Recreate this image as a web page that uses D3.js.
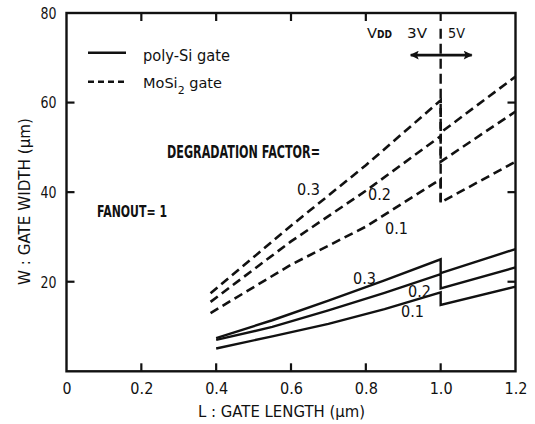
<!DOCTYPE html>
<html><head><meta charset="utf-8">
<script src="https://cdn.jsdelivr.net/npm/d3@7"></script>
<style>
body{margin:0;background:#fff;}
svg text{font-family:"DejaVu Sans",sans-serif;fill:#111;}
</style></head>
<body><svg id="c" width="535" height="424"></svg>
<script>
// ---- data ----
const xTicks = [0, 0.2, 0.4, 0.6, 0.8, 1.0, 1.2];
const xTickLabels = ["0", "0.2", "0.4", "0.6", "0.8", "1.0", "1.2"];
const yTicks = [20, 40, 60, 80];
const yTickLabels = ["20", "40", "60", "80"];

const factors = ["0.3", "0.2", "0.1"];
// poly-Si gate (solid)
const polyL = [0.40, 0.55, 0.70, 0.85, 1.0, 1.0, 1.2];
const poly03 = [7.4, 11.4, 15.8, 20.3, 25.0, 21.9, 27.3];
const poly02 = [7.0, 9.9, 13.6, 17.5, 21.7, 18.5, 23.2];
const poly01 = [5.1, 7.8, 10.6, 13.9, 17.6, 14.8, 18.9];
// MoSi2 gate (dashed)
const mosiL = [0.385, 0.6, 0.8, 1.0, 1.0, 1.2];
const mosi03 = [17.4, 32.5, 46.0, 60.5, 53.3, 65.8];
const mosi02 = [15.5, 29.0, 40.3, 52.5, 46.8, 58.0];
const mosi01 = [13.0, 23.8, 32.3, 42.9, 37.7, 46.8];

const vddSplit = 1.0;
const vddLine = [37.7, 76.5];
const arrowL = [0.92, 1.083];
const arrowW = 70.6;

// ---- chart ----
const svg = d3.select("#c");
const x = d3.scaleLinear().domain([0, 1.2]).range([66.5, 515.5]);
const y = d3.scaleLinear().domain([0, 80]).range([371.3, 13]);

const g = svg.append("g");
function txt(xp, yp, s, size, len, opts = {}) {
  const t = g.append("text").attr("x", xp).attr("y", yp).attr("font-size", size).text(s);
  if (len) t.attr("textLength", len).attr("lengthAdjust", "spacingAndGlyphs");
  if (opts.anchor) t.attr("text-anchor", opts.anchor);
  if (opts.bold) t.attr("font-weight", "bold");
  return t;
}

// frame
g.append("rect").attr("x", x(0)).attr("y", y(80)).attr("width", x(1.2) - x(0)).attr("height", y(0) - y(80))
  .attr("fill", "none").attr("stroke", "#111").attr("stroke-width", 2.4);

// axes (labels via axis generator, ticks drawn inward)
const axB = d3.axisBottom(x).tickValues(xTicks).tickSize(0).tickPadding(11)
  .tickFormat((d, i) => xTickLabels[i]);
const gb = g.append("g").attr("transform", `translate(0,${y(0)})`).call(axB);
gb.select(".domain").remove();
gb.selectAll("text").attr("font-size", 16.5).attr("font-family", null).attr("fill", "#111")
  .attr("textLength", (d, i) => xTickLabels[i].length > 1 ? 23 : 9).attr("lengthAdjust", "spacingAndGlyphs");

const axL = d3.axisLeft(y).tickValues(yTicks).tickSize(0).tickPadding(10)
  .tickFormat((d, i) => yTickLabels[i]);
const gl = g.append("g").attr("transform", `translate(${x(0)},0)`).call(axL);
gl.select(".domain").remove();
gl.selectAll("text").attr("font-size", 16.5).attr("font-family", null).attr("fill", "#111")
  .attr("textLength", 16).attr("lengthAdjust", "spacingAndGlyphs");

const tickLen = 8;
xTicks.filter(d => d > 0 && d < 1.2).forEach(d => {
  g.append("line").attr("x1", x(d)).attr("x2", x(d)).attr("y1", y(0)).attr("y2", y(0) - tickLen).attr("stroke", "#111").attr("stroke-width", 2.2);
  g.append("line").attr("x1", x(d)).attr("x2", x(d)).attr("y1", y(80)).attr("y2", y(80) + tickLen).attr("stroke", "#111").attr("stroke-width", 2.2);
});
yTicks.filter(d => d > 0 && d < 80).forEach(d => {
  g.append("line").attr("x1", x(0)).attr("x2", x(0) + tickLen).attr("y1", y(d)).attr("y2", y(d)).attr("stroke", "#111").attr("stroke-width", 2.2);
  g.append("line").attr("x1", x(1.2)).attr("x2", x(1.2) - tickLen).attr("y1", y(d)).attr("y2", y(d)).attr("stroke", "#111").attr("stroke-width", 2.2);
});

// axis titles
txt(198, 417, "L : GATE LENGTH  (\u03bcm)", 16, 167);
g.append("text").attr("transform", "translate(30,285) rotate(-90)").attr("font-size", 16)
  .attr("textLength", 167).attr("lengthAdjust", "spacingAndGlyphs").text("W : GATE WIDTH  (\u03bcm)");

// curves
const line = d3.line().x(d => x(d[0])).y(d => y(d[1]));
[poly03, poly02, poly01].forEach(s => {
  g.append("path").datum(polyL.map((l, i) => [l, s[i]])).attr("d", line)
    .attr("fill", "none").attr("stroke", "#111").attr("stroke-width", 2.4);
});
[mosi03, mosi02, mosi01].forEach(s => {
  g.append("path").datum(mosiL.map((l, i) => [l, s[i]])).attr("d", line)
    .attr("fill", "none").attr("stroke", "#111").attr("stroke-width", 2.6).attr("stroke-dasharray", "9,5");
});
// VDD split line
g.append("line").attr("x1", x(vddSplit)).attr("x2", x(vddSplit)).attr("y1", y(vddLine[1])).attr("y2", y(vddLine[0]))
  .attr("stroke", "#111").attr("stroke-width", 2.4).attr("stroke-dasharray", "10,5");

// arrow
const defs = svg.append("defs");
defs.append("marker").attr("id", "ah").attr("viewBox", "0 0 10 10").attr("refX", 9).attr("refY", 5)
  .attr("markerWidth", 4).attr("markerHeight", 3.4).attr("orient", "auto-start-reverse").attr("markerUnits", "strokeWidth")
  .append("path").attr("d", "M0,0 L10,5 L0,10 L2,5 Z").attr("fill", "#111");
g.append("line").attr("x1", x(arrowL[0])).attr("x2", x(arrowL[1])).attr("y1", y(arrowW)).attr("y2", y(arrowW))
  .attr("stroke", "#111").attr("stroke-width", 2.6).attr("marker-start", "url(#ah)").attr("marker-end", "url(#ah)");

const vdd = g.append("text").attr("font-size", 14.5);
vdd.append("tspan").attr("x", 367).attr("y", 38).attr("textLength", 10).attr("lengthAdjust", "spacingAndGlyphs").text("V");
vdd.append("tspan").attr("x", 377).attr("y", 38).attr("font-size", 10.5).attr("font-weight", "bold")
  .attr("textLength", 15).attr("lengthAdjust", "spacingAndGlyphs").text("DD");
txt(407, 38, "3V", 14.5, 20);
txt(448, 38, "5V", 14.5, 17);

// legend
g.append("line").attr("x1", 88).attr("x2", 126).attr("y1", 52.7).attr("y2", 52.7).attr("stroke", "#111").attr("stroke-width", 2.4);
txt(143, 61, "poly-Si gate", 16, 87);
g.append("line").attr("x1", 88).attr("x2", 126).attr("y1", 81.7).attr("y2", 81.7).attr("stroke", "#111").attr("stroke-width", 2.4).attr("stroke-dasharray", "6,4");
const mo = g.append("text").attr("x", 143).attr("y", 88).attr("font-size", 14.5);
mo.append("tspan").text("MoSi");
mo.append("tspan").attr("font-size", 11).attr("dy", 6).text("2");
mo.append("tspan").attr("dy", -6).text(" gate");

txt(167, 158, "DEGRADATION FACTOR=", 17, 153, { bold: true });
txt(97, 217, "FANOUT= 1", 16, 70, { bold: true });

// curve labels
const dashLbl = [[297, 195], [368, 200], [385, 234]];
const solidLbl = [[353, 284], [408, 297], [401, 317]];
factors.forEach((f, i) => {
  txt(dashLbl[i][0], dashLbl[i][1], f, 15.5, 23);
  txt(solidLbl[i][0], solidLbl[i][1], f, 15.5, 23);
});
</script></body></html>
